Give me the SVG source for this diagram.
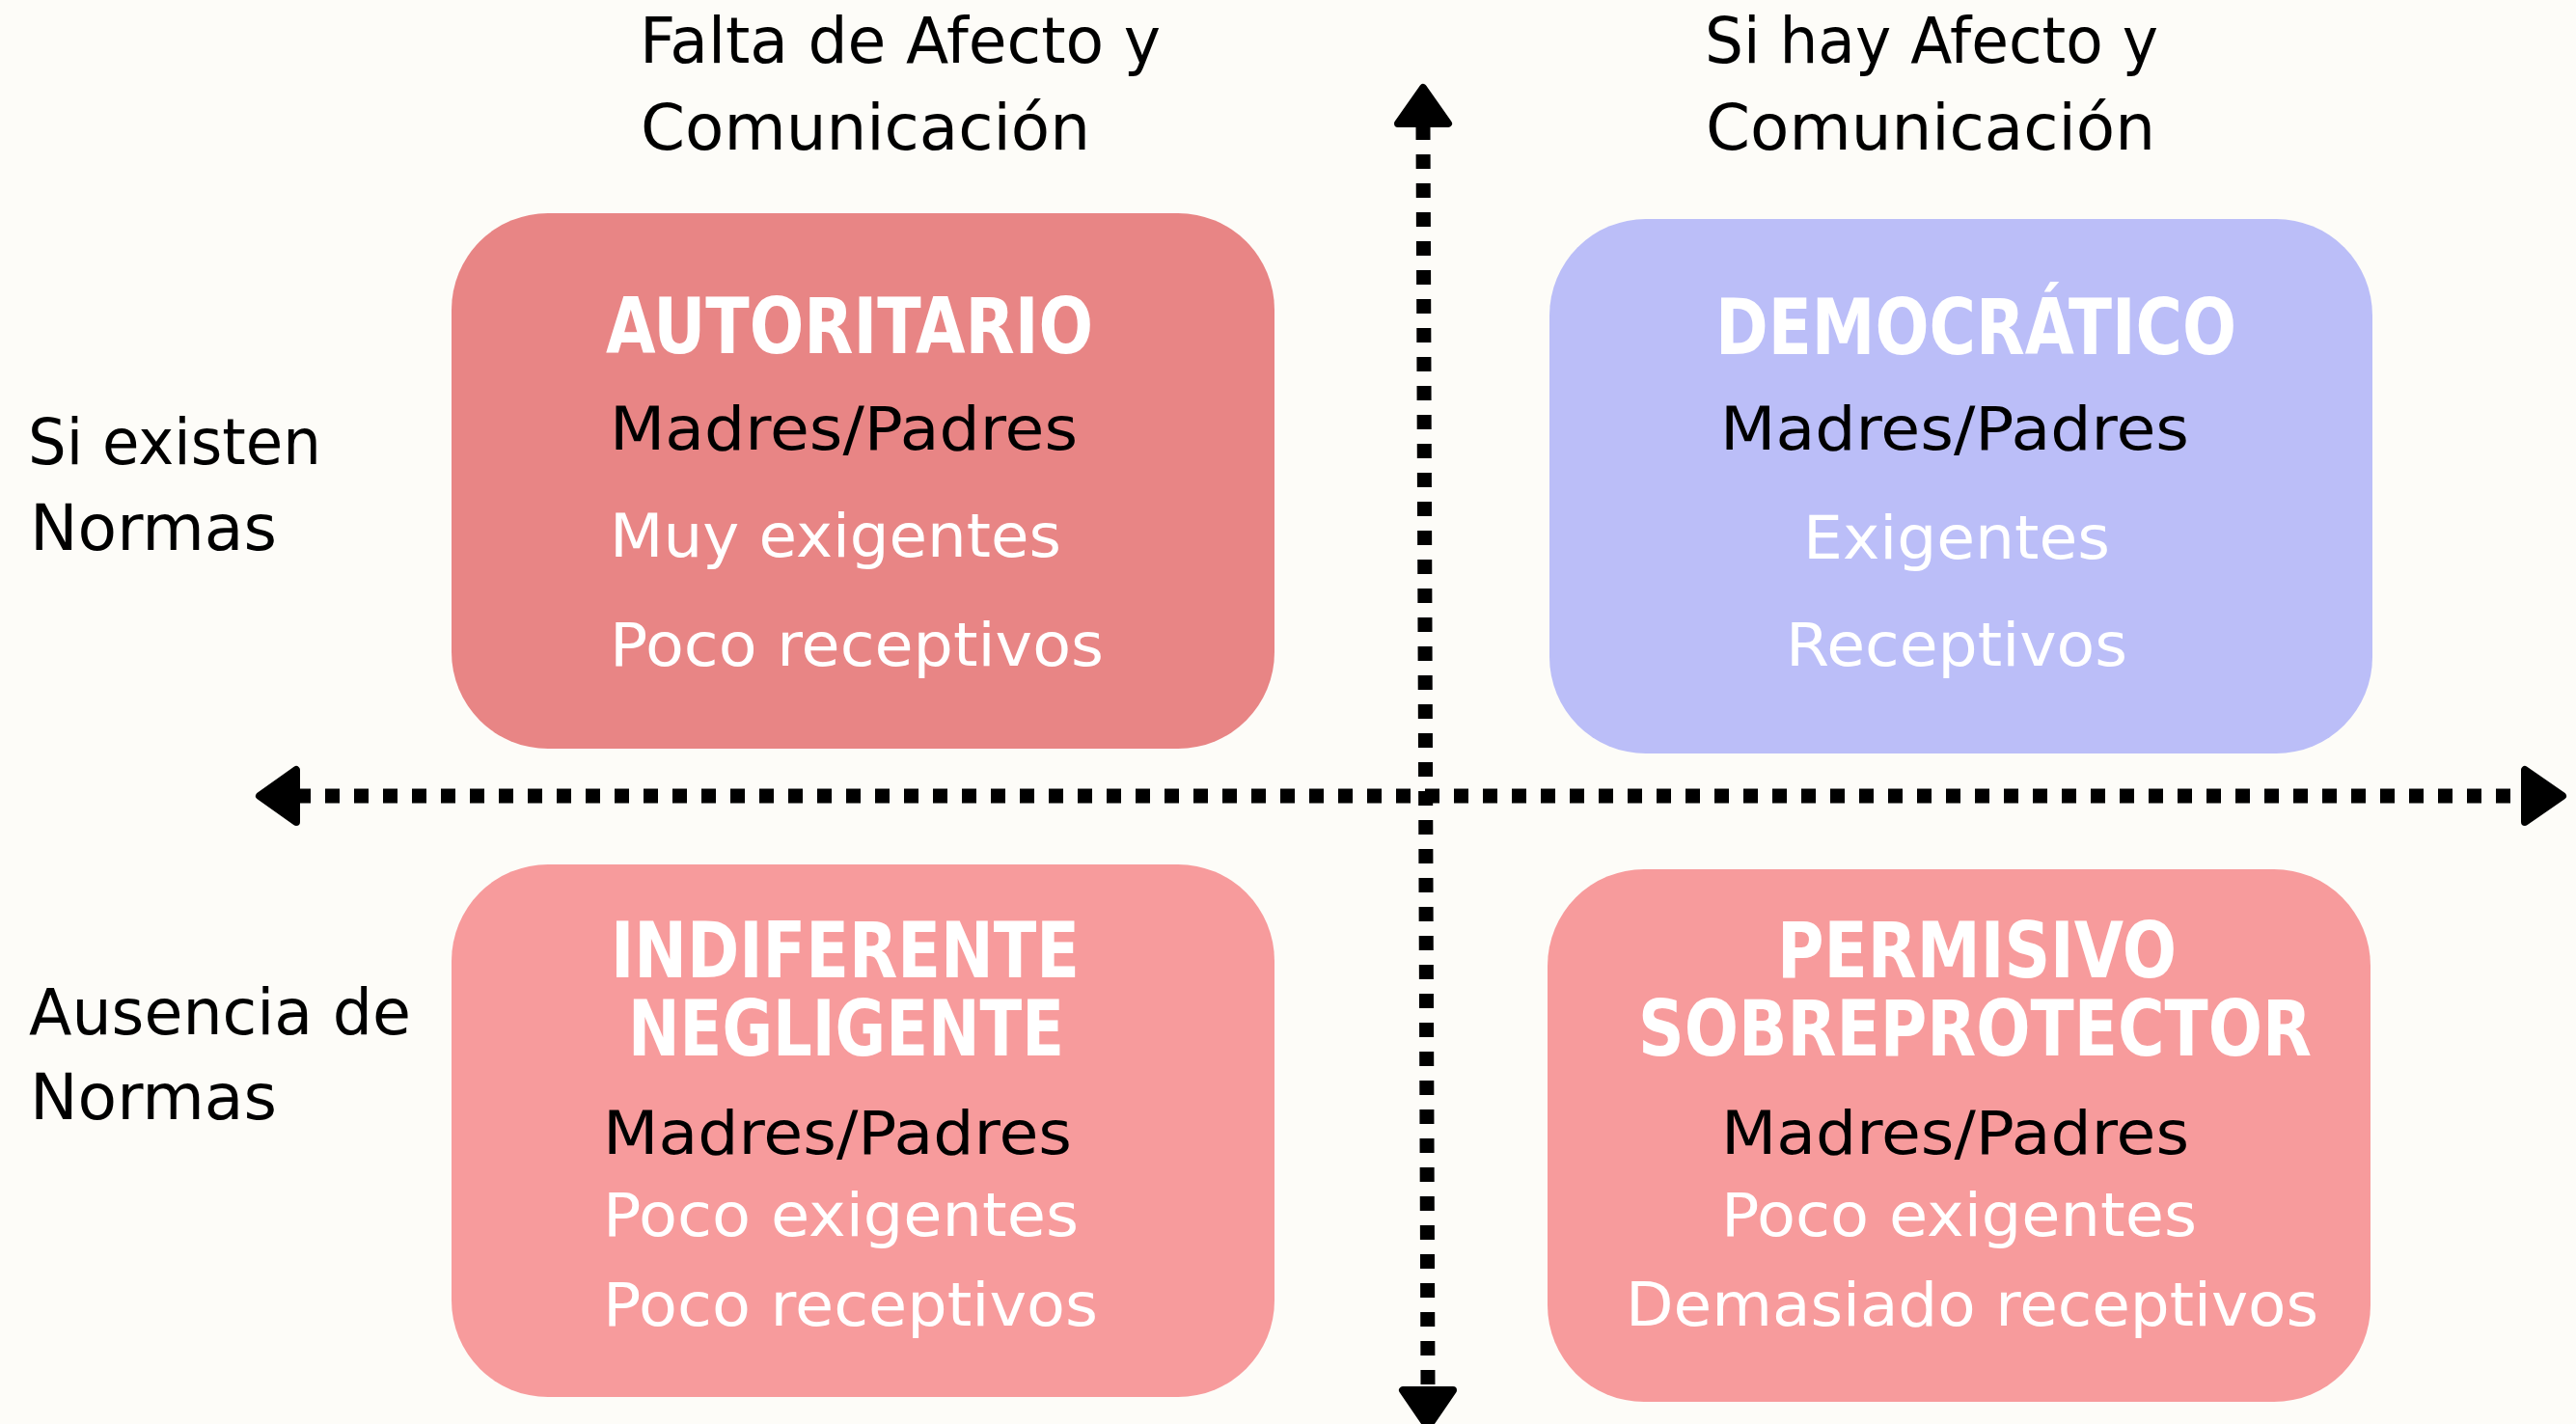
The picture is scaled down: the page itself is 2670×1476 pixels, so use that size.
<svg xmlns="http://www.w3.org/2000/svg" width="2670" height="1476" viewBox="0 0 2670 1476">
  <defs>
    <style>
      .lbl { font-family: "DejaVu Sans", "Liberation Sans", sans-serif; font-size: 66px; fill: #000; }
      .ttl { font-family: "DejaVu Sans Condensed", "DejaVu Sans", "Liberation Sans", sans-serif; font-stretch: condensed; font-weight: bold; font-size: 80px; fill: #fff; }
      .blk { font-family: "DejaVu Sans", "Liberation Sans", sans-serif; font-size: 62px; fill: #000; }
      .wht { font-family: "DejaVu Sans", "Liberation Sans", sans-serif; font-size: 62px; fill: #fff; }
      .axis { stroke: #000; stroke-width: 15; stroke-dasharray: 15 15; fill: none; }
      .head { fill: #000; stroke: #000; stroke-width: 8; stroke-linejoin: round; }
    </style>
  </defs>
  <rect x="0" y="0" width="2670" height="1476" fill="#FDFCF8"/>

  <g id="axis-labels">
    <text class="lbl" x="663" y="65" textLength="540" lengthAdjust="spacingAndGlyphs">Falta de Afecto y</text>
    <text class="lbl" x="664" y="155" textLength="466" lengthAdjust="spacingAndGlyphs">Comunicación</text>
    <text class="lbl" x="1767" y="65" textLength="470" lengthAdjust="spacingAndGlyphs">Si hay Afecto y</text>
    <text class="lbl" x="1768" y="155" textLength="466" lengthAdjust="spacingAndGlyphs">Comunicación</text>
    <text class="lbl" x="29" y="481" textLength="304" lengthAdjust="spacingAndGlyphs">Si existen</text>
    <text class="lbl" x="31" y="570" textLength="256" lengthAdjust="spacingAndGlyphs">Normas</text>
    <text class="lbl" x="30" y="1072" textLength="396" lengthAdjust="spacingAndGlyphs">Ausencia de</text>
    <text class="lbl" x="31" y="1160" textLength="256" lengthAdjust="spacingAndGlyphs">Normas</text>
  </g>

  <g id="connectors">
    <line class="axis" x1="307" y1="825" x2="2613" y2="825"/>
    <line class="axis" x1="1475" y1="130" x2="1480" y2="1437"/>
    <path class="head" d="M269,825 L307,798 L307,852 Z"/>
    <path class="head" d="M2656,825 L2617,798 L2617,852 Z"/>
    <path class="head" d="M1475,91 L1501,128 L1449,128 Z"/>
    <path class="head" d="M1480,1479 L1454,1441 L1506,1441 Z"/>
  </g>

  <g id="autoritario">
    <rect x="468" y="221" width="853" height="555" rx="100" ry="100" fill="#E88585"/>
    <text class="ttl" x="628" y="366" textLength="505" lengthAdjust="spacingAndGlyphs">AUTORITARIO</text>
    <text class="blk" x="632" y="466" textLength="485" lengthAdjust="spacingAndGlyphs">Madres/Padres</text>
    <text class="wht" x="632" y="577" textLength="468" lengthAdjust="spacingAndGlyphs">Muy exigentes</text>
    <text class="wht" x="632" y="690" textLength="512" lengthAdjust="spacingAndGlyphs">Poco receptivos</text>
  </g>

  <g id="democratico">
    <rect x="1606" y="227" width="853" height="554" rx="100" ry="100" fill="#BBBEF8"/>
    <text class="ttl" x="1778" y="367" textLength="540" lengthAdjust="spacingAndGlyphs">DEMOCRÁTICO</text>
    <text class="blk" x="1783" y="466" textLength="486" lengthAdjust="spacingAndGlyphs">Madres/Padres</text>
    <text class="wht" x="1869" y="579" textLength="318" lengthAdjust="spacingAndGlyphs">Exigentes</text>
    <text class="wht" x="1851" y="690" textLength="354" lengthAdjust="spacingAndGlyphs">Receptivos</text>
  </g>

  <g id="indiferente">
    <rect x="468" y="896" width="853" height="552" rx="100" ry="100" fill="#F79B9C"/>
    <text class="ttl"><tspan x="633" y="1013" textLength="486" lengthAdjust="spacingAndGlyphs">INDIFERENTE</tspan><tspan x="651" y="1094" textLength="452" lengthAdjust="spacingAndGlyphs">NEGLIGENTE</tspan></text>
    <text class="blk" x="625" y="1196" textLength="486" lengthAdjust="spacingAndGlyphs">Madres/Padres</text>
    <text class="wht" x="625" y="1281" textLength="493" lengthAdjust="spacingAndGlyphs">Poco exigentes</text>
    <text class="wht" x="625" y="1374" textLength="513" lengthAdjust="spacingAndGlyphs">Poco receptivos</text>
  </g>

  <g id="permisivo">
    <rect x="1604" y="901" width="853" height="552" rx="100" ry="100" fill="#F79B9C"/>
    <text class="ttl"><tspan x="1842" y="1013" textLength="414" lengthAdjust="spacingAndGlyphs">PERMISIVO</tspan><tspan x="1698" y="1094" textLength="698" lengthAdjust="spacingAndGlyphs">SOBREPROTECTOR</tspan></text>
    <text class="blk" x="1784" y="1196" textLength="485" lengthAdjust="spacingAndGlyphs">Madres/Padres</text>
    <text class="wht" x="1784" y="1281" textLength="493" lengthAdjust="spacingAndGlyphs">Poco exigentes</text>
    <text class="wht" x="1685" y="1374" textLength="718" lengthAdjust="spacingAndGlyphs">Demasiado receptivos</text>
  </g>
</svg>
